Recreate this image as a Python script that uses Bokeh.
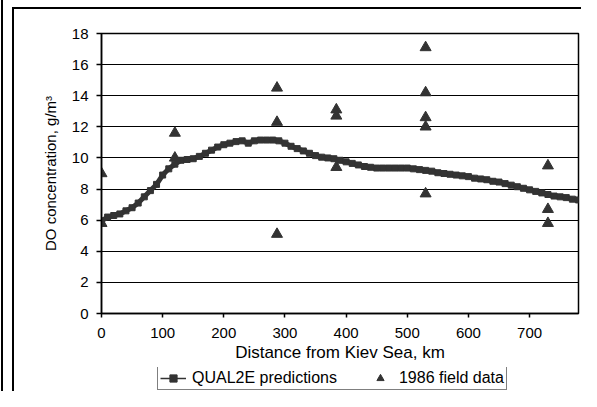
from bokeh.plotting import figure
from bokeh.layouts import column
from bokeh.models import Range1d, FixedTicker, Legend, LegendItem
from bokeh.embed import file_html
from bokeh.resources import INLINE

# QUAL2E model predictions (distance km, DO g/m3)
model_km = [0, 10, 20, 30, 40, 50, 60, 70, 80, 90, 100, 110, 120, 130, 140, 150,
            160, 170, 180, 190, 200, 210, 220, 230, 240, 250, 260, 270, 280, 290,
            300, 310, 320, 330, 340, 350, 360, 370, 380, 390, 400, 410, 420, 430,
            440, 450, 460, 470, 480, 490, 500, 510, 520, 530, 540, 550, 560, 570,
            580, 590, 600, 610, 620, 630, 640, 650, 660, 670, 680, 690, 700, 710,
            720, 730, 740, 750, 760, 770, 780]
model_do = [5.95, 6.2, 6.3, 6.4, 6.6, 6.8, 7.1, 7.5, 7.9, 8.3, 8.9, 9.3, 9.6, 9.85,
            9.9, 9.95, 10.1, 10.3, 10.5, 10.7, 10.85, 10.95, 11.05, 11.1, 10.95, 11.1,
            11.15, 11.15, 11.15, 11.1, 10.95, 10.75, 10.6, 10.45, 10.3, 10.15, 10.05,
            10.0, 9.95, 9.85, 9.75, 9.65, 9.55, 9.45, 9.4, 9.35, 9.35, 9.35, 9.35,
            9.35, 9.35, 9.3, 9.25, 9.2, 9.15, 9.05, 9.0, 8.95, 8.9, 8.85, 8.8, 8.7,
            8.65, 8.6, 8.5, 8.45, 8.35, 8.25, 8.15, 8.05, 7.95, 7.85, 7.75, 7.65,
            7.55, 7.5, 7.45, 7.35, 7.3]

# 1986 field data
field_km = [0, 0, 120, 120, 287, 287, 287, 384, 384, 384,
            530, 530, 530, 530, 530, 730, 730, 730]
field_do = [9.0, 5.8, 11.6, 10.0, 14.5, 12.3, 5.1, 13.1, 12.7, 9.4,
            17.1, 14.2, 12.6, 12.0, 7.7, 9.5, 6.7, 5.8]

x_ticks = [0, 100, 200, 300, 400, 500, 600, 700]
y_ticks = [0, 2, 4, 6, 8, 10, 12, 14, 16, 18]
series_names = ["QUAL2E predictions", "1986 field data"]

FONT = "Liberation Sans"
DARK = "#333333"

# ---------------- main chart ----------------
p = figure(width=581, height=367, output_backend="svg", toolbar_location=None,
           x_range=Range1d(0, 780), y_range=Range1d(0, 18),
           min_border_left=101, min_border_right=3, min_border_top=33,
           min_border_bottom=54)

p.background_fill_color = "white"
p.border_fill_alpha = 0
p.outline_line_color = "black"
p.outline_line_width = 1.5

for ax in (p.xaxis[0], p.yaxis[0]):
    ax.axis_line_color = "black"
    ax.axis_line_width = 1.5
    ax.major_tick_line_color = "black"
    ax.major_tick_line_width = 1.5
    ax.minor_tick_line_color = None
    ax.major_tick_in = 0
    ax.major_label_text_font = FONT
    ax.major_label_text_font_size = "15px"
    ax.major_label_text_color = "black"
    ax.axis_label_text_font = FONT
    ax.axis_label_text_font_style = "normal"
    ax.axis_label_text_color = "black"

p.xaxis[0].ticker = FixedTicker(ticks=x_ticks)
p.yaxis[0].ticker = FixedTicker(ticks=y_ticks)
p.xaxis[0].major_tick_out = 4
p.yaxis[0].major_tick_out = 5
p.xaxis[0].major_label_standoff = 10
p.yaxis[0].major_label_standoff = 8
p.xaxis[0].axis_label = "Distance from Kiev Sea, km"
p.xaxis[0].axis_label_text_font_size = "17px"
p.xaxis[0].axis_label_standoff = 2
p.yaxis[0].axis_label = "DO concentration, g/m\u00b3"
p.yaxis[0].axis_label_text_font_size = "15px"
p.yaxis[0].axis_label_standoff = 10

p.xgrid.grid_line_color = None
p.ygrid.grid_line_color = "black"
p.ygrid.grid_line_width = 1.2

p.line(model_km, model_do, line_color=DARK, line_width=5)
p.scatter(model_km, model_do, marker="square", size=6,
          fill_color=DARK, line_color=DARK)
p.scatter(field_km, field_do, marker="triangle", size=11,
          fill_color=DARK, line_color=DARK)

# ---------------- legend strip ----------------
# (series are re-plotted here out of view only so the legend can show their glyphs)
lf = figure(width=581, height=24, output_backend="svg", toolbar_location=None,
            x_range=Range1d(0, 1), y_range=Range1d(-2, -1),
            x_axis_location=None, y_axis_location=None,
            min_border=0, min_border_left=0, min_border_right=0,
            min_border_top=0, min_border_bottom=0)
lf.xgrid.grid_line_color = None
lf.ygrid.grid_line_color = None
lf.outline_line_color = None
lf.background_fill_alpha = 0
lf.border_fill_alpha = 0

l_ln = lf.line(model_km, model_do, line_color=DARK, line_width=1.5)
l_sq = lf.scatter(model_km, model_do, marker="square", size=6,
                  fill_color=DARK, line_color=DARK)
l_tri = lf.scatter(field_km, field_do, marker="triangle", size=11,
                   fill_color=DARK, line_color=DARK)

legend = Legend(items=[LegendItem(label=series_names[0], renderers=[l_ln, l_sq]),
                       LegendItem(label=series_names[1], renderers=[l_tri])],
                orientation="horizontal", location=(56, 1),
                label_text_font=FONT, label_text_font_size="16px",
                label_text_color="black",
                border_line_color="black", border_line_width=1.5,
                background_fill_color="white", background_fill_alpha=1,
                padding=2, spacing=30, margin=0,
                glyph_width=26, glyph_height=18, label_standoff=6,
                label_height=18)
lf.add_layout(legend, "center")

layout = column(p, lf, spacing=0)
layout.styles = {
    "background": ("linear-gradient(#000,#000) 1px 0px / 2px 100% no-repeat, "
                   "linear-gradient(#000,#000) 12px 7px / 2px 100% no-repeat, "
                   "linear-gradient(#000,#000) 12px 7px / 100% 2px no-repeat, "
                   "#ffffff"),
}

open("out.html", "w").write(file_html(layout, INLINE))
